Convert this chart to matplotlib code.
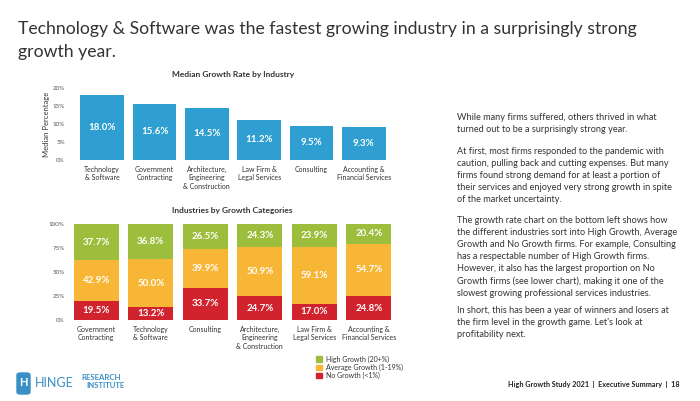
import matplotlib.pyplot as plt
from matplotlib.patches import Patch, FancyBboxPatch

plt.rcParams['font.family'] = ['Lato', 'DejaVu Sans']

# Median growth rate by industry (top chart)
median_industries = ["Technology\n& Software", "Government\nContracting",
                     "Architecture,\nEngineering\n& Construction", "Law Firm &\nLegal Services",
                     "Consulting", "Accounting &\nFinancial Services"]
median_growth = [18.0, 15.6, 14.5, 11.2, 9.5, 9.3]

# Growth categories by industry (bottom chart)
cat_industries = ["Government\nContracting", "Technology\n& Software", "Consulting",
                  "Architecture,\nEngineering\n& Construction", "Law Firm &\nLegal Services",
                  "Accounting &\nFinancial Services"]
no_growth = [19.5, 13.2, 33.7, 24.7, 17.0, 24.8]
avg_growth = [42.9, 50.0, 39.9, 50.9, 59.1, 54.7]
high_growth = [37.7, 36.8, 26.5, 24.3, 23.9, 20.4]

BLUE = "#2E9FD0"
GREEN = "#9DBE3C"
ORANGE = "#F7B635"
RED = "#D0232D"
TXT = "#333333"

W, H = 700, 401
fig = plt.figure(figsize=(7, 4.01), dpi=100)


def box(x0, y0, x1, y1):
    # pixel box (top-left origin) -> figure fraction rect
    return [x0 / W, 1 - y1 / H, (x1 - x0) / W, (y1 - y0) / H]


fig.text(18 / W, 1 - 34 / H, "Technology & Software was the fastest growing industry in a surprisingly strong",
         fontsize=12.7, color=TXT, va="baseline", ha="left")
fig.text(18 / W, 1 - 57 / H, "growth year.", fontsize=12.7, color=TXT, va="baseline", ha="left")

# top chart
ax1 = fig.add_axes(box(76, 88, 390, 160))
x = range(len(median_growth))
ax1.bar(x, median_growth, width=0.84, color=BLUE)
for i, v in enumerate(median_growth):
    ax1.text(i, v / 2, f"{v:.1f}%", ha="center", va="center", color="white", fontsize=7, fontweight="bold")
ax1.set_xlim(-0.5, 5.5)
ax1.set_ylim(0, 20)
ax1.set_yticks([0, 5, 10, 15, 20])
ax1.set_yticklabels(["0%", "5%", "10%", "15%", "20%"])
ax1.set_xticks(list(x))
ax1.set_xticklabels(median_industries, fontsize=5, color=TXT, linespacing=1.25, va="top")
ax1.tick_params(axis="y", labelsize=4.5, labelcolor="#555555", length=0, pad=8)
ax1.tick_params(axis="x", length=0, pad=4)
ax1.set_ylabel("Median Percentage", fontsize=5.5, color=TXT, labelpad=2)
ax1.set_title("Median Growth Rate by Industry", fontsize=6, fontweight="bold", color=TXT, pad=8)
for s in ax1.spines.values():
    s.set_visible(False)

# bottom chart
ax2 = fig.add_axes(box(69, 224, 396, 320))
x2 = range(len(no_growth))
bottoms2 = no_growth
bottoms3 = [a + b for a, b in zip(no_growth, avg_growth)]
ax2.bar(x2, no_growth, width=0.83, color=RED)
ax2.bar(x2, avg_growth, width=0.83, bottom=bottoms2, color=ORANGE)
ax2.bar(x2, high_growth, width=0.83, bottom=bottoms3, color=GREEN)
for i in x2:
    ax2.text(i, no_growth[i] / 2, f"{no_growth[i]:.1f}%", ha="center", va="center", color="white", fontsize=7, fontweight="bold")
    ax2.text(i, bottoms2[i] + avg_growth[i] / 2, f"{avg_growth[i]:.1f}%", ha="center", va="center", color="white", fontsize=7, fontweight="bold")
    ax2.text(i, bottoms3[i] + high_growth[i] / 2, f"{high_growth[i]:.1f}%", ha="center", va="center", color="white", fontsize=7, fontweight="bold")
ax2.set_xlim(-0.5, 5.5)
ax2.set_ylim(0, 100)
ax2.set_yticks([0, 25, 50, 75, 100])
ax2.set_yticklabels(["0%", "25%", "50%", "75%", "100%"])
ax2.set_xticks(list(x2))
ax2.set_xticklabels(cat_industries, fontsize=5, color=TXT, linespacing=1.25, va="top")
ax2.tick_params(axis="y", labelsize=4.5, labelcolor="#555555", length=0, pad=3)
ax2.tick_params(axis="x", length=0, pad=4)
ax2.set_title("Industries by Growth Categories", fontsize=6, fontweight="bold", color=TXT, pad=8)
for s in ax2.spines.values():
    s.set_visible(False)

handles = [Patch(color=GREEN, label="High Growth (20+%)"),
           Patch(color=ORANGE, label="Average Growth (1-19%)"),
           Patch(color=RED, label="No Growth (<1%)")]
fig.legend(handles=handles, loc="upper left", bbox_to_anchor=(313 / W, 1 - 352 / H), frameon=False,
           fontsize=5, handlelength=0.8, handleheight=0.8, labelspacing=0.15, handletextpad=0.5,
           borderpad=0, labelcolor=TXT)

# right hand text
paras = [
    (113, "While many firms suffered, others thrived in what\nturned out to be a surprisingly strong year."),
    (147, "At first, most firms responded to the pandemic with\ncaution, pulling back and cutting expenses. But many\n"
          "firms found strong demand for at least a portion of\ntheir services and enjoyed very strong growth in spite\n"
          "of the market uncertainty."),
    (216, "The growth rate chart on the bottom left shows how\nthe different industries sort into High Growth, Average\n"
          "Growth and No Growth firms. For example, Consulting\nhas a respectable number of High Growth firms.\n"
          "However, it also has the largest proportion on No\nGrowth firms (see lower chart), making it one of the\n"
          "slowest growing professional services industries."),
    (306, "In short, this has been a year of winners and losers at\nthe firm level in the growth game. Let's look at\n"
          "profitability next."),
]
for y, t in paras:
    fig.text(457 / W, 1 - y / H, t, fontsize=6.6, color=TXT, va="top", ha="left", linespacing=1.43)

# footer
fig.text(679 / W, 1 - 385 / H, "High Growth Study 2021  |  Executive Summary  |  18",
         fontsize=5.25, color="#222222", fontweight="bold", ha="right", va="center")
logo = FancyBboxPatch((17 / W, 1 - 394 / H), 13 / W, 21 / H, boxstyle="round,pad=0,rounding_size=0.005",
                      transform=fig.transFigure, color="#3A8FC6")
fig.patches.append(logo)
fig.text(23.5 / W, 1 - 383 / H, "H", fontsize=8, color="white", fontweight="bold", ha="center", va="center")
fig.text(35 / W, 1 - 383 / H, "HINGE", fontsize=9, color="#3A8FC6", ha="left", va="center")
fig.text(81 / W, 1 - 378 / H, "RESEARCH", fontsize=5.6, color="#3A8FC6", fontweight="bold", ha="left", va="center")
fig.text(86 / W, 1 - 386 / H, "INSTITUTE", fontsize=5.6, color="#3A8FC6", fontweight="bold", ha="left", va="center")

fig.savefig("out.png", dpi=100)
